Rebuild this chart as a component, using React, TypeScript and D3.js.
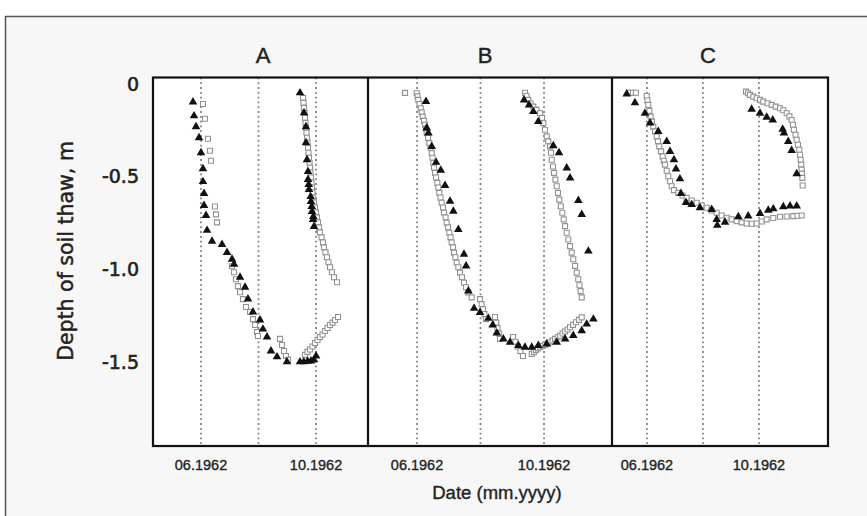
import React from "react";
import * as d3 from "d3";

// ---- data (day of year 1962, depth in m) ----
const panelNames = ["A", "B", "C"];
const yTickValues = [0, -0.5, -1.0, -1.5];
const yTickLabels = ["0", "-0.5", "-1.0", "-1.5"];
const xTickDays = [152, 274]; // 1 Jun, 1 Oct
const xTickLabels = ["06.1962", "10.1962"];
const gridDays = [152, 213, 274]; // 1 Jun, 1 Aug, 1 Oct
const panelStartDay = [101.1, 104.9, 113.9];
const panelEndDay = [329.1, 339.3, 349.2];

// observed (triangles)
const obsA: [number, number][] = [
  [143.5, -0.097], [144.6, -0.172], [146.7, -0.231], [149.9, -0.29], [152, -0.371], [154.1, -0.457],
  [154.1, -0.527], [155.2, -0.591], [155.2, -0.656], [157.3, -0.71], [158.4, -0.79], [163.7, -0.849],
  [174.3, -0.866], [179.6, -0.909], [184.9, -0.946], [187, -0.973], [193.4, -1.043], [198.7, -1.097],
  [201.8, -1.161], [207.1, -1.231], [214.6, -1.274], [217.7, -1.323], [222, -1.366], [226.2, -1.441],
  [232.6, -1.473], [243.2, -1.5], [257, -1.5], [261, -1.5], [265, -1.497], [268.6, -1.495],
  [271.8, -1.489], [274, -1.468],
  [257, -0.048], [261.2, -0.156], [263.3, -0.231], [263.3, -0.317], [264.4, -0.409], [265.5, -0.473],
  [265.5, -0.516], [266.2, -0.543], [266.5, -0.57], [268.3, -0.608], [268.6, -0.634], [269.4, -0.661],
  [269.7, -0.688], [271.1, -0.715], [270.8, -0.731], [271.8, -0.769],
];
const obsB: [number, number][] = [
  [160.6, -0.095], [161.3, -0.238], [162.9, -0.265], [166.1, -0.337], [170.3, -0.423], [174.8, -0.466],
  [178.9, -0.548], [183.7, -0.633], [186.9, -0.687], [191.7, -0.785], [197.1, -0.919], [199.1, -0.982],
  [201.3, -1.117], [206.8, -1.211], [212.5, -1.233], [220.5, -1.265], [224.7, -1.301], [228.6, -1.344],
  [234.9, -1.376], [241.3, -1.394], [249.3, -1.412], [255.7, -1.421], [262.2, -1.421], [268.5, -1.412],
  [276.6, -1.403], [286.2, -1.394], [294.2, -1.376], [302.1, -1.358], [310.2, -1.332], [315, -1.296],
  [321.4, -1.269],
  [254.8, -0.086], [259.6, -0.113], [263.7, -0.149], [268.5, -0.203], [282.9, -0.333], [288.4, -0.371],
  [295.8, -0.453], [299, -0.507], [307, -0.629], [310.2, -0.704], [316.6, -0.902],
];
const obsC: [number, number][] = [
  [129.9, -0.054], [138.9, -0.101], [149.8, -0.158], [155.3, -0.211], [164.3, -0.256], [173.5, -0.31],
  [177.1, -0.364], [181.4, -0.409], [183.6, -0.459], [187.9, -0.512], [189, -0.591], [194.5, -0.64],
  [200.7, -0.651], [209.7, -0.668], [222.5, -0.677], [227.9, -0.731], [228.6, -0.763], [237, -0.746],
  [251.5, -0.717], [262.3, -0.713], [275.1, -0.699], [284.1, -0.681], [289.6, -0.674], [300.5, -0.663],
  [307.8, -0.659], [315.1, -0.659],
  [266, -0.136], [275.1, -0.158], [282.4, -0.179], [289, -0.194], [299.8, -0.244], [301.2, -0.265],
  [305.9, -0.31], [309.6, -0.359], [315.1, -0.484],
];

// modelled (squares)
const modA: [number, number][] = [
  [154.1, -0.108], [156.2, -0.188], [159.4, -0.296], [161.5, -0.36], [162.6, -0.414], [166.8, -0.661],
  [167.9, -0.704], [169, -0.747],
  [184.9, -0.984], [187, -1.016], [189.1, -1.054], [191.2, -1.091], [193.4, -1.124], [196.5, -1.161],
  [199.7, -1.204], [204, -1.231], [207.1, -1.269], [209.3, -1.301], [211.4, -1.339], [212.4, -1.36],
  [235.8, -1.376], [237.9, -1.409], [240, -1.441], [242.1, -1.468], [244.3, -1.489],
  [262.3, -1.462], [264.9, -1.446], [267.6, -1.433], [270.2, -1.417], [272.9, -1.398], [275.6, -1.382],
  [278.2, -1.366], [280.9, -1.352], [283.5, -1.333], [286.2, -1.317], [288.8, -1.301], [291.5, -1.288],
  [294.1, -1.274], [297.3, -1.258],
  [260.2, -0.075], [260.7, -0.102], [261.2, -0.129], [261.8, -0.156], [262.3, -0.183], [262.8, -0.21],
  [263.3, -0.237], [263.9, -0.263], [264.4, -0.29], [264.9, -0.317], [265.5, -0.344], [266, -0.371],
  [266.5, -0.398], [267.1, -0.425], [267.6, -0.452], [268.1, -0.478], [268.6, -0.505], [269.2, -0.532],
  [269.7, -0.559], [270.2, -0.586], [270.8, -0.613], [271.8, -0.64], [272.9, -0.667], [273.9, -0.694],
  [275, -0.72], [276.1, -0.747], [277.1, -0.774], [278.2, -0.801], [279.8, -0.828], [281.4, -0.855],
  [282.4, -0.882], [284, -0.909], [285.6, -0.935], [287.2, -0.962], [288.8, -0.989], [290.9, -1.016],
  [293, -1.043], [296.2, -1.07],
];
const modB: [number, number][] = [
  [140.5, -0.048],
  [151.7, -0.05], [152.5, -0.067], [153.2, -0.086], [154.4, -0.108], [155.6, -0.131], [156.5, -0.153],
  [157.5, -0.176], [158.7, -0.199], [159.7, -0.22], [160.6, -0.242], [161.3, -0.265], [162.6, -0.29],
  [163.8, -0.319], [165, -0.344], [166.1, -0.373], [166.9, -0.398], [167.7, -0.426], [168.3, -0.452],
  [169.3, -0.48], [170.3, -0.505], [171.5, -0.534], [172.5, -0.559], [173.4, -0.588], [174.6, -0.613],
  [175.7, -0.641], [177, -0.667], [177.9, -0.695], [179.4, -0.72], [180.5, -0.749], [181.8, -0.774],
  [183, -0.803], [184.2, -0.828], [185.3, -0.856], [186.6, -0.882], [187.5, -0.91], [188.8, -0.935],
  [190.1, -0.964], [191.7, -0.989], [193.3, -1.018], [195.2, -1.043], [197.1, -1.072], [199.1, -1.097],
  [201.3, -1.125], [204.5, -1.152],
  [212.5, -1.161], [214, -1.188], [215.4, -1.215], [216.8, -1.242], [218.3, -1.269],
  [226.9, -1.258], [228.1, -1.288], [229.3, -1.317], [230.6, -1.347], [231.7, -1.376],
  [244.2, -1.366], [246.6, -1.391], [249, -1.417], [251.4, -1.442], [253.8, -1.468],
  [262.2, -1.457], [264.4, -1.446], [266.3, -1.435], [268.2, -1.427], [270.2, -1.421], [272.6, -1.414],
  [275, -1.408], [277.4, -1.401], [279.8, -1.394], [282.2, -1.385], [284.6, -1.376], [287, -1.367],
  [289.4, -1.359], [291.8, -1.347], [294.2, -1.336], [296.6, -1.325], [299, -1.313], [301.9, -1.3],
  [304.7, -1.286], [307.6, -1.273], [310.2, -1.26],
  [255.7, -0.047], [257.2, -0.065], [258.9, -0.086], [261, -0.105], [263.7, -0.122], [266.8, -0.14],
  [270.2, -0.158], [272.1, -0.183], [273.3, -0.211], [274.9, -0.247], [276.6, -0.283], [278.1, -0.31],
  [279.8, -0.337], [280.7, -0.371], [281.4, -0.409], [282.6, -0.445], [283.6, -0.48], [284.9, -0.516],
  [286.2, -0.552], [287.4, -0.588], [288.7, -0.624], [290.1, -0.66], [291.6, -0.695], [292.9, -0.731],
  [294.2, -0.767], [295.8, -0.803], [297.3, -0.839], [299, -0.875], [300.6, -0.91], [302.1, -0.946],
  [303.8, -0.982], [305.4, -1.018], [306.9, -1.054], [308.1, -1.086], [309.1, -1.118], [310.2, -1.152],
];
const modC: [number, number][] = [
  [133.5, -0.047], [136.7, -0.047], [140, -0.047],
  [151.7, -0.065], [152.5, -0.089], [153.4, -0.113], [154.7, -0.145], [156, -0.176], [157.4, -0.203],
  [158.9, -0.23], [160.7, -0.256], [162.6, -0.283], [164, -0.31], [165.4, -0.337], [167.3, -0.364],
  [169.1, -0.391], [170.3, -0.414], [171.6, -0.435], [173.5, -0.468], [175.2, -0.498], [177.1, -0.525],
  [178.9, -0.552], [181.4, -0.573], [186.1, -0.588], [190.7, -0.602], [195.2, -0.615], [200.7, -0.629],
  [206.1, -0.641], [211.6, -0.656], [217, -0.668], [222.5, -0.683], [227.9, -0.695], [233.4, -0.71],
  [238.8, -0.722], [244.3, -0.731], [249.7, -0.74], [255.2, -0.747], [260.6, -0.753], [266.1, -0.754],
  [271.5, -0.753], [277, -0.742], [282.4, -0.731], [289.6, -0.723], [296.9, -0.717], [304.2, -0.715],
  [311.4, -0.713], [316, -0.711], [320.5, -0.71],
  [259.8, -0.041], [262, -0.05], [264.2, -0.059], [267.8, -0.068], [271.5, -0.077], [275.1, -0.086],
  [278.7, -0.095], [283.3, -0.104], [287.8, -0.113], [292.3, -0.122], [296.9, -0.131], [300.5, -0.142],
  [304.2, -0.158], [307.2, -0.175], [309.6, -0.194], [311, -0.22], [312.1, -0.247], [313.8, -0.274],
  [315.1, -0.301], [316.5, -0.328], [317.9, -0.355], [318.7, -0.382], [319.4, -0.409], [320, -0.435],
  [320.5, -0.462], [320.8, -0.484], [321.2, -0.507], [321.6, -0.548],
];

const observed = [obsA, obsB, obsC];
const modelled = [modA, modB, modC];

// ---- layout ----
const W = 867;
const H = 516;
const plotTop = 77.5;
const plotBottom = 446;
const panelEdges = [153, 368, 612, 828];
const titleX = [263, 485, 708];

const doyToDate = (doy: number) => new Date(Date.UTC(1962, 0, 1) + (doy - 1) * 86400000);

const textInk = { fill: "#222", stroke: "#222", strokeWidth: 0.45 };

export default function App() {
  const y = d3.scaleLinear().domain([-1.954, 0.035]).range([plotBottom, plotTop]);
  const xScales = panelNames.map((_, i) =>
    d3
      .scaleUtc()
      .domain([doyToDate(panelStartDay[i]), doyToDate(panelEndDay[i])])
      .range([panelEdges[i], panelEdges[i + 1]])
  );
  const tri = d3.symbol(d3.symbolTriangle, 32)() as string;
  const sq = d3.symbol(d3.symbolSquare, 25)() as string;

  return (
    <svg
      width={W}
      height={H}
      style={{ position: "absolute", left: 0, top: 0, background: "#ffffff" }}
    >
      <rect x={5.5} y={16.5} width={W} height={H} fill="#f7f7f7" stroke="none" />
      <line x1={5} x2={W} y1={16.5} y2={16.5} stroke="#555" strokeWidth={1.5} />
      <line x1={5.5} x2={5.5} y1={16} y2={H} stroke="#555" strokeWidth={1.5} />

      <rect
        x={panelEdges[0]}
        y={plotTop}
        width={panelEdges[3] - panelEdges[0]}
        height={plotBottom - plotTop}
        fill="#ffffff"
      />

      {panelNames.map((name, i) => {
        const x = xScales[i];
        return (
          <g key={name}>
            {gridDays.map((d) => (
              <line
                key={d}
                x1={x(doyToDate(d))}
                x2={x(doyToDate(d))}
                y1={plotTop}
                y2={plotBottom}
                stroke="#808080"
                strokeWidth={1.8}
                strokeDasharray="1.8,3"
              />
            ))}
            {modelled[i].map(([d, v], k) => (
              <path
                key={"m" + k}
                d={sq}
                transform={`translate(${x(doyToDate(d))},${y(v)})`}
                fill="#ffffff"
                stroke="#929292"
                strokeWidth={1.1}
              />
            ))}
            {observed[i].map(([d, v], k) => (
              <path
                key={"o" + k}
                d={tri}
                transform={`translate(${x(doyToDate(d))},${y(v)})`}
                fill="#111"
              />
            ))}
            {xTickDays.map((d, k) => (
              <text
                key={"t" + k}
                x={x(doyToDate(d))}
                y={470}
                textAnchor="middle"
                fontFamily="Liberation Sans, Arial, sans-serif"
                fontSize={14.5}
                {...textInk}
                strokeWidth={0.35}
              >
                {xTickLabels[k]}
              </text>
            ))}
            <text
              x={titleX[i]}
              y={63}
              textAnchor="middle"
              fontFamily="Liberation Sans, Arial, sans-serif"
              fontSize={22}
              {...textInk}
            >
              {name}
            </text>
          </g>
        );
      })}

      <rect
        x={panelEdges[0]}
        y={plotTop}
        width={panelEdges[3] - panelEdges[0]}
        height={plotBottom - plotTop}
        fill="none"
        stroke="#111"
        strokeWidth={2.2}
      />
      {[panelEdges[1], panelEdges[2]].map((px) => (
        <line key={px} x1={px} x2={px} y1={plotTop} y2={plotBottom} stroke="#111" strokeWidth={2.2} />
      ))}

      {yTickValues.map((v, k) => (
        <text
          key={v}
          x={139}
          y={y(v)}
          dy="0.36em"
          textAnchor="end"
          fontFamily="DejaVu Sans, Verdana, sans-serif"
          fontSize={19}
          {...textInk}
          strokeWidth={0.6}
        >
          {yTickLabels[k]}
        </text>
      ))}
      <text
        transform={`translate(73,251) rotate(-90)`}
        textAnchor="middle"
        fontFamily="DejaVu Sans, Verdana, sans-serif"
        fontSize={20.5}
        {...textInk}
      >
        Depth of soil thaw, m
      </text>
      <text
        x={497}
        y={499}
        textAnchor="middle"
        fontFamily="Liberation Sans, Arial, sans-serif"
        fontSize={18.5}
        {...textInk}
        strokeWidth={0.35}
      >
        Date (mm.yyyy)
      </text>
    </svg>
  );
}
